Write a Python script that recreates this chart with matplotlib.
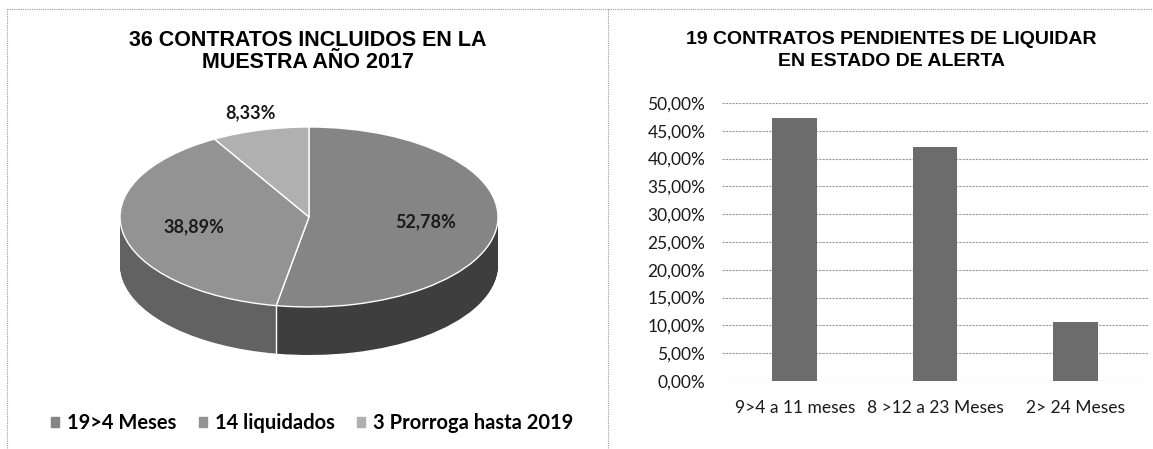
import numpy as np
import matplotlib
matplotlib.use('Agg')
import matplotlib.pyplot as plt
from matplotlib.lines import Line2D
from matplotlib.patches import Patch

# pie data (counts out of 36 contracts)
pie_labels = ['19>4 Meses', '14 liquidados', '3 Prorroga hasta 2019']
pie_counts = [19, 14, 3]
pie_top_colors = ['#858585', '#939393', '#b0b0b0']
pie_side_colors = ['#3e3e3e', '#626262', '#7a7a7a']

# bar data (counts out of 19 contracts)
bar_labels = ['9>4 a 11 meses', '8 >12 a 23 Meses', '2> 24 Meses']
bar_counts = [9, 8, 2]
y_ticks = [0, 0.05, 0.10, 0.15, 0.20, 0.25, 0.30, 0.35, 0.40, 0.45, 0.50]

W, H = 1153, 449
fig = plt.figure(figsize=(W / 100, H / 100), dpi=100)

def px(x, y):
    return x / W, 1 - y / H

def pct(v):
    return f'{v:.2f}%'.replace('.', ',')

# ---- panel borders (dotted, scanned look)
for xs, ys in [((7, 608), (9, 9)), ((608, 1153), (9, 9)),
               ((7, 7), (9, 449)), ((608, 608), (9, 449))]:
    (x0, y0), (x1, y1) = px(xs[0], ys[0]), px(xs[1], ys[1])
    fig.add_artist(Line2D([x0, x1], [y0, y1], transform=fig.transFigure,
                          color='#9a9a9a', lw=0.8, ls=(0, (1, 1))))

# ---- titles
tfont = dict(family='Liberation Sans', weight='bold', ha='center', va='center')
fig.text(*px(308, 41), '36 CONTRATOS INCLUIDOS EN LA', fontsize=15.5, **tfont)
fig.text(*px(308, 63), 'MUESTRA AÑO 2017', fontsize=15.5, **tfont)
fig.text(*px(891, 39), '19 CONTRATOS PENDIENTES DE LIQUIDAR', fontsize=14, **tfont)
fig.text(*px(891, 61), 'EN ESTADO DE ALERTA', fontsize=14, **tfont)

# ---- 3D-looking pie: stacked pies for the side, then top face
cx, cy, rx, ry, depth = 309, 217, 189, 90, 48
left, right, top, bottom = 109, 509, 100, 372
axp = fig.add_axes([left / W, 1 - bottom / H, (right - left) / W, (bottom - top) / H])
d_units = depth / ry
for d in np.linspace(d_units, 0.0, 60):
    axp.pie(pie_counts, colors=pie_side_colors, startangle=90, counterclock=False,
            center=(0, -d), radius=1, wedgeprops=dict(linewidth=0))
wedges, _, autotexts = axp.pie(pie_counts, colors=pie_top_colors, startangle=90,
                               counterclock=False, radius=1,
                               autopct=lambda p: pct(p), pctdistance=0.62,
                               wedgeprops=dict(edgecolor='white', linewidth=1.0),
                               textprops=dict(family='Lato', weight='bold',
                                              fontsize=13, color='#1a1a1a'))
# small slice label sits outside the pie
th = np.deg2rad((wedges[2].theta1 + wedges[2].theta2) / 2)
autotexts[2].set_position((1.2 * np.cos(th), 1.2 * np.sin(th)))
# visible boundary line on the side
tb = np.deg2rad(wedges[0].theta1)
xb, yb = np.cos(tb), np.sin(tb)
axp.plot([xb, xb], [yb, yb - d_units], color='white', lw=1.0)
axp.set_aspect('auto')
axp.set_xlim(-(cx - left) / rx, (right - cx) / rx)
axp.set_ylim(-(bottom - cy) / ry, (cy - top) / ry)
axp.axis('off')

fig.legend(handles=[Patch(color=c) for c in pie_top_colors], labels=pie_labels,
           loc='center', bbox_to_anchor=px(312, 423), ncol=3, frameon=False,
           handlelength=0.4, handleheight=0.4, handletextpad=0.4, columnspacing=1.1,
           prop=dict(family='Lato', weight='bold', size=14.5))

# ---- bar chart
axb = fig.add_axes([722 / W, 1 - 381 / H, (1148 - 722) / W, (381 - 103) / H])
bar_vals = [c / sum(bar_counts) for c in bar_counts]
xpos = np.arange(len(bar_labels))
axb.bar(xpos, bar_vals, width=0.32, color='#6c6c6c', zorder=3)
axb.set_xlim(-0.52, 2.52)
axb.set_ylim(0, 0.5)
axb.set_yticks(y_ticks)
axb.set_yticklabels([pct(v * 100) for v in y_ticks])
axb.set_xticks(xpos)
axb.set_xticklabels(bar_labels)
axb.grid(axis='y', color='#9a9a9a', lw=0.8, ls=(0, (2, 1)), zorder=0)
for s in axb.spines.values():
    s.set_visible(False)
axb.tick_params(length=0, labelsize=12.5, colors='#1a1a1a')
axb.tick_params(axis='y', pad=12)
axb.tick_params(axis='x', pad=14)
for t in axb.get_xticklabels() + axb.get_yticklabels():
    t.set_family('Lato')

fig.savefig('out.png', dpi=100)
